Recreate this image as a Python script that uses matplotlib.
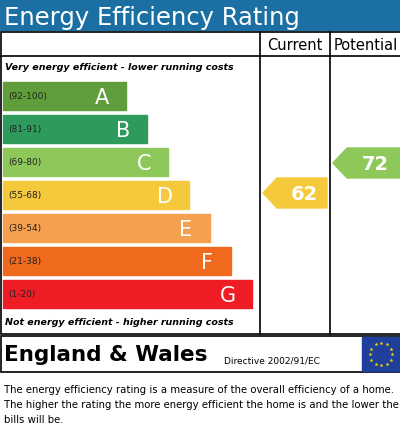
import matplotlib
matplotlib.use("Agg")
import matplotlib.pyplot as plt
from matplotlib.patches import Rectangle, Polygon
import numpy as np

bands = ["A", "B", "C", "D", "E", "F", "G"]
ranges = ["(92-100)", "(81-91)", "(69-80)", "(55-68)", "(39-54)", "(21-38)", "(1-20)"]
colors = ["#5f9e3a", "#2e9a5c", "#8ec85a", "#f4c93c", "#f4a04e", "#f06a1e", "#ee1c25"]
current = 62
current_band = 3
potential = 72
potential_band = 2

fig = plt.figure(figsize=(4, 4.35), dpi=100)
ax = fig.add_axes([0, 0, 1, 1])
ax.set_xlim(0, 400); ax.set_ylim(435, 0); ax.axis("off")

ax.add_patch(Rectangle((0, 0), 400, 31, color="#1c6fa3"))
ax.text(4, 18, "Energy Efficiency Rating", color="white", fontsize=17.5, va="center", ha="left")

lw = 1.2
ax.add_patch(Rectangle((1, 33), 400, 302, fill=False, ec="black", lw=lw))
for x in (260, 330):
    ax.plot([x, x], [33, 335], color="black", lw=lw)
ax.plot([0, 400], [57, 57], color="black", lw=lw)
ax.text(295, 46, "Current", fontsize=10.5, ha="center", va="center")
ax.text(334, 46, "Potential", fontsize=10.5, ha="left", va="center")
ax.text(5, 68, "Very energy efficient - lower running costs", fontsize=6.8, style="italic", weight="bold", va="center")
ax.text(5, 323, "Not energy efficient - higher running costs", fontsize=6.8, style="italic", weight="bold", va="center")

tops = [83, 116, 149, 182, 215, 248, 281]
h = 28
for i, b in enumerate(bands):
    w = 126 + 21 * i
    ax.add_patch(Rectangle((3, tops[i]), w - 3, h, color=colors[i]))
    ax.text(8, tops[i] + h / 2, ranges[i], fontsize=6.5, va="center", color="#222222")
    ax.text(w - 24, tops[i] + h / 2 + 1, b, fontsize=15, va="center", ha="center", color="white")

def arrow(x0, x1, yc, val, col):
    hh = 15
    pts = [(x0, yc), (x0 + 14, yc - hh), (x1, yc - hh), (x1, yc + hh), (x0 + 14, yc + hh)]
    ax.add_patch(Polygon(pts, color=col))
    ax.text((x0 + 14 + x1) / 2 + 2, yc + 1, str(val), fontsize=14, weight="bold", color="white", ha="center", va="center")

arrow(263, 327, tops[current_band] + h / 2 - 2, current, colors[current_band])
arrow(333, 400, tops[potential_band] + h / 2 + 1, potential, colors[potential_band])

ax.add_patch(Rectangle((1, 337), 400, 36, fill=False, ec="black", lw=lw))
ax.text(4, 355, "England & Wales", fontsize=15.5, weight="bold", va="center")
ax.text(224, 361, "Directive 2002/91/EC", fontsize=6.5, va="center")
ax.add_patch(Rectangle((362, 338), 38, 34, color="#1f3f9a"))
ang = np.linspace(0, 2 * np.pi, 13)[:-1]
ax.scatter(381 + 11 * np.cos(ang), 355 + 11 * np.sin(ang), marker="*", s=9, color="#ffdd00", lw=0)

lines = ["The energy efficiency rating is a measure of the overall efficiency of a home.",
         "The higher the rating the more energy efficient the home is and the lower the fuel",
         "bills will be."]
for i, t in enumerate(lines):
    ax.text(4, 390 + i * 15, t, fontsize=7.3, va="center")

fig.savefig("out.png", dpi=100)
